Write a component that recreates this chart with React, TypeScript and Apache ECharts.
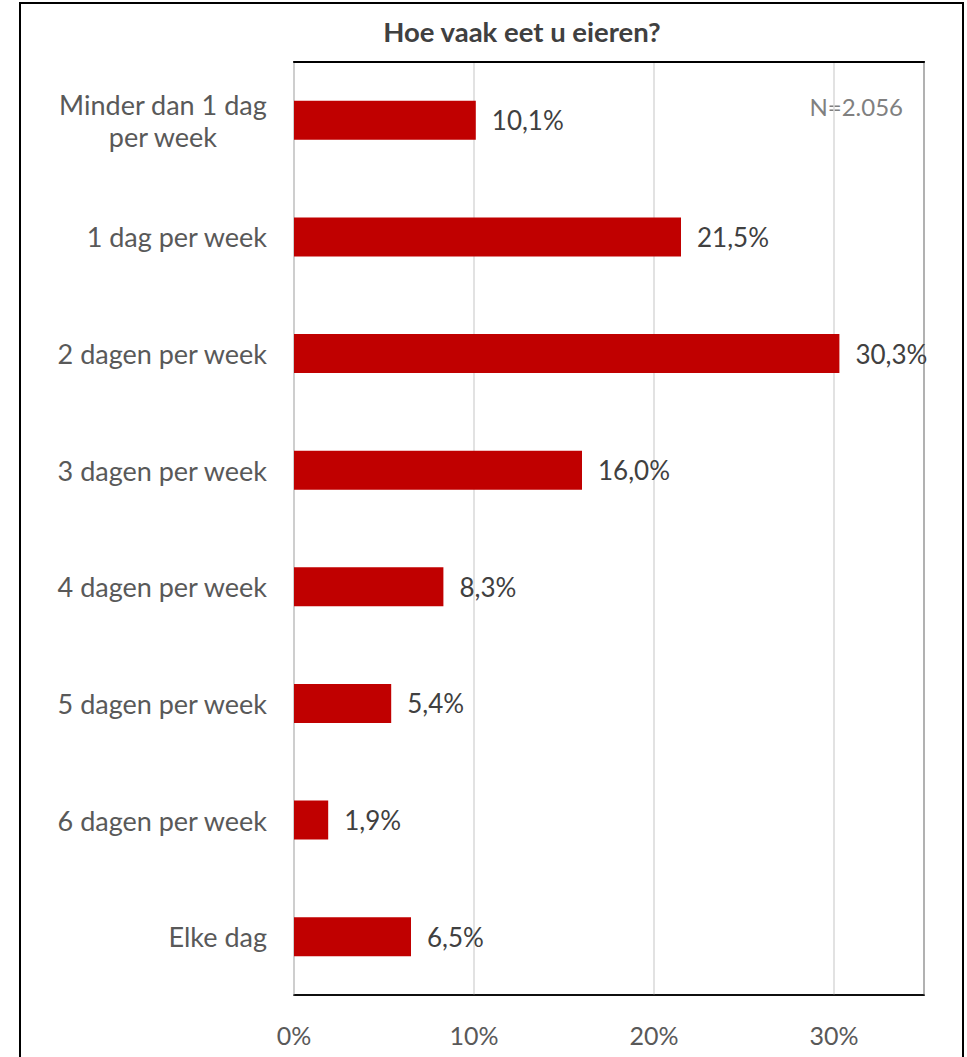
import React, { useEffect, useRef } from "react";
import * as echarts from "echarts";

const categories = [
  "Minder dan 1 dag\nper week",
  "1 dag per week",
  "2 dagen per week",
  "3 dagen per week",
  "4 dagen per week",
  "5 dagen per week",
  "6 dagen per week",
  "Elke dag",
];
const values = [10.1, 21.5, 30.3, 16.0, 8.3, 5.4, 1.9, 6.5];
const titleText = "Hoe vaak eet u eieren?";
const noteText = "N=2.056";

const FONT = "Lato, 'Open Sans', sans-serif";

export default function App() {
  const ref = useRef<HTMLDivElement>(null);
  useEffect(() => {
    document.body.style.margin = "0";
    const chart = echarts.init(ref.current!, null, { renderer: "svg" });
    chart.setOption({
      animation: false,
      textStyle: { fontFamily: FONT },
      graphic: [
        {
          type: "rect",
          shape: { x: 20, y: 3, width: 943, height: 1100 },
          style: { fill: "none", stroke: "#000", lineWidth: 2 },
          silent: true,
        },
        {
          type: "text",
          x: 522,
          y: 31,
          style: {
            text: titleText,
            fontFamily: FONT,
            fontSize: 27.5,
            fontWeight: "bold",
            fill: "#404040",
            textAlign: "center",
            textVerticalAlign: "middle",
          },
        },
        {
          type: "text",
          x: 903,
          y: 106,
          style: {
            text: noteText,
            fontFamily: FONT,
            fontSize: 24,
            fill: "#808080",
            textAlign: "right",
            textVerticalAlign: "middle",
          },
        },
      ],
      grid: {
        left: 294,
        right: 43,
        top: 62,
        bottom: 62,
        show: true,
        borderColor: "#000",
        borderWidth: 1.5,
        containLabel: false,
      },
      xAxis: [
        {
          type: "value",
          min: 0,
          max: 35,
          interval: 10,
          axisLine: { show: true, lineStyle: { color: "#000", width: 1.5 } },
          axisTick: { show: false },
          splitLine: { show: true, lineStyle: { color: "#d9d9d9", width: 1.5 } },
          axisLabel: {
            formatter: (v: number) => (v % 10 === 0 ? v + "%" : ""),
            fontSize: 25,
            color: "#595959",
            margin: 27,
            fontFamily: FONT,
          },
        },
        {
          type: "value",
          position: "top",
          min: 0,
          max: 35,
          interval: 10,
          axisLine: { show: true, lineStyle: { color: "#000", width: 2 } },
          axisTick: { show: false },
          splitLine: { show: false },
          axisLabel: { show: false },
        },
      ],
      yAxis: {
        type: "category",
        data: categories,
        inverse: true,
        axisLine: { show: true, lineStyle: { color: "#d9d9d9", width: 1.5 } },
        axisTick: { show: false },
        axisLabel: {
          fontSize: 27,
          color: "#595959",
          margin: 27,
          align: "right",
          fontFamily: FONT,
          formatter: (v: string) =>
            v.indexOf("\n") >= 0
              ? v
                  .split("\n")
                  .map((s) => "{c|" + s + "}")
                  .join("\n")
              : v,
          rich: {
            c: {
              align: "center",
              fontSize: 27,
              color: "#595959",
              fontFamily: FONT,
              lineHeight: 32,
            },
          },
        },
      },
      series: [
        {
          type: "bar",
          data: values,
          barWidth: 39,
          itemStyle: { color: "#c00000" },
          label: {
            show: true,
            position: "right",
            distance: 16,
            fontSize: 26,
            color: "#404040",
            fontFamily: FONT,
            formatter: (p: any) => p.value.toFixed(1).replace(".", ",") + "%",
          },
        },
      ],
    });
    return () => chart.dispose();
  }, []);
  return <div ref={ref} style={{ width: 967, height: 1057 }} />;
}
